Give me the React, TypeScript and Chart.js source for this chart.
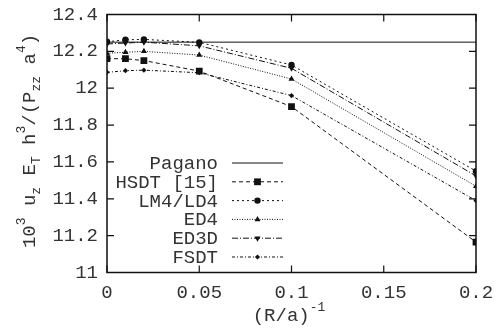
import React, { useEffect, useRef } from "react";
import { Chart, registerables } from "chart.js";
import { drawPoint } from "chart.js/helpers";

Chart.register(...registerables);

const xValues = [0, 0.01, 0.02, 0.05, 0.1, 0.2];
const paganoX = [0, 0.2];
const paganoY = [12.25, 12.25];
const hsdt = [12.16, 12.16, 12.15, 12.093, 11.9, 11.165];
const lm4 = [12.252, 12.263, 12.265, 12.249, 12.126, 11.55];
const ed4 = [12.19, 12.195, 12.2, 12.18, 12.05, 11.468];
const ed3d = [12.24, 12.245, 12.25, 12.23, 12.108, 11.524];
const fsdt = [12.086, 12.095, 12.098, 12.084, 11.96, 11.39];

const xTicks = [0, 0.05, 0.1, 0.15, 0.2];
const yTicks = [11, 11.2, 11.4, 11.6, 11.8, 12, 12.2, 12.4];

const FONT = "'Liberation Mono', 'DejaVu Sans Mono', monospace";
const INK = "#111";
const TEXT = "#333";

const pts = (xs: number[], ys: number[]) => xs.map((x, i) => ({ x, y: ys[i] }));

const series = [
  { label: "Pagano", data: pts(paganoX, paganoY), dash: [] as number[], style: "circle", radius: 0, rotation: 0 },
  { label: "HSDT [15]", data: pts(xValues, hsdt), dash: [4, 3], style: "rect", radius: 4.8, rotation: 0 },
  { label: "LM4/LD4", data: pts(xValues, lm4), dash: [2, 3], style: "circle", radius: 3.2, rotation: 0 },
  { label: "ED4", data: pts(xValues, ed4), dash: [1, 1.5], style: "triangle", radius: 3.5, rotation: 0 },
  { label: "ED3D", data: pts(xValues, ed3d), dash: [6, 2, 1, 2], style: "triangle", radius: 3.5, rotation: 180 },
  { label: "FSDT", data: pts(xValues, fsdt), dash: [3, 2, 1, 2], style: "rectRot", radius: 2.6, rotation: 0 },
];

const framePlugin = {
  id: "frame",
  afterDatasetsDraw(chart: any) {
    const { ctx, chartArea: a, scales } = chart;
    const xs = scales.x;
    const ys = scales.y;
    ctx.save();
    ctx.strokeStyle = INK;
    ctx.lineWidth = 1.5;
    ctx.setLineDash([]);
    ctx.strokeRect(a.left, a.top, a.right - a.left, a.bottom - a.top);
    ctx.lineWidth = 1.2;
    const L = 7;
    ctx.beginPath();
    xTicks.forEach((v) => {
      const px = xs.getPixelForValue(v);
      ctx.moveTo(px, a.bottom);
      ctx.lineTo(px, a.bottom - L);
      ctx.moveTo(px, a.top);
      ctx.lineTo(px, a.top + L);
    });
    yTicks.forEach((v) => {
      const py = ys.getPixelForValue(v);
      ctx.moveTo(a.left, py);
      ctx.lineTo(a.left + L, py);
      ctx.moveTo(a.right, py);
      ctx.lineTo(a.right - L, py);
    });
    ctx.stroke();

    // legend
    const textRight = 218;
    const lineStart = 232;
    const lineEnd = 283;
    const rowTop = 163;
    const rowGap = 18.8;
    ctx.font = `19px ${FONT}`;
    ctx.textAlign = "right";
    ctx.textBaseline = "middle";
    series.forEach((s, i) => {
      const y = rowTop + i * rowGap;
      ctx.fillStyle = TEXT;
      ctx.fillText(s.label, textRight, y + 1);
      ctx.save();
      ctx.strokeStyle = INK;
      ctx.lineWidth = 1;
      ctx.setLineDash(s.dash);
      ctx.beginPath();
      ctx.moveTo(lineStart, y);
      ctx.lineTo(lineEnd, y);
      ctx.stroke();
      ctx.setLineDash([]);
      if (s.radius > 0) {
        ctx.fillStyle = INK;
        drawPoint(ctx, { pointStyle: s.style as any, radius: s.radius, rotation: s.rotation, borderWidth: 0 } as any, (lineStart + lineEnd) / 2, y);
      }
      ctx.restore();
    });

    // axis titles
    const big = `19px ${FONT}`;
    const small = `13px ${FONT}`;
    type Seg = { t: string; f: string; dy: number };
    const drawSegs = (segs: Seg[], cx: number) => {
      let total = 0;
      segs.forEach((s) => {
        ctx.font = s.f;
        total += ctx.measureText(s.t).width;
      });
      let x = cx - total / 2;
      segs.forEach((s) => {
        ctx.font = s.f;
        ctx.fillText(s.t, x, s.dy);
        x += ctx.measureText(s.t).width;
      });
    };
    ctx.textAlign = "left";
    ctx.textBaseline = "alphabetic";
    ctx.fillStyle = TEXT;
    // y title
    ctx.save();
    ctx.translate(35, 0);
    ctx.rotate(-Math.PI / 2);
    const ySegs: Seg[] = [
      { t: "10", f: big, dy: 0 },
      { t: "3", f: small, dy: -10 },
      { t: " u", f: big, dy: 0 },
      { t: "z", f: small, dy: 5 },
      { t: " E", f: big, dy: 0 },
      { t: "T", f: small, dy: 5 },
      { t: " h", f: big, dy: 0 },
      { t: "3", f: small, dy: -10 },
      { t: "/(P", f: big, dy: 0 },
      { t: "zz", f: small, dy: 5 },
      { t: " a", f: big, dy: 0 },
      { t: "4", f: small, dy: -10 },
      { t: ")", f: big, dy: 0 },
    ];
    drawSegs(ySegs, -141);
    ctx.restore();
    // x title
    ctx.save();
    ctx.translate(0, 321);
    const xSegs: Seg[] = [
      { t: "(R/a)", f: big, dy: 0 },
      { t: "-1", f: small, dy: -10 },
    ];
    drawSegs(xSegs, 289);
    ctx.restore();
    ctx.restore();
  },
};

export default function App() {
  const ref = useRef<HTMLCanvasElement | null>(null);
  useEffect(() => {
    if (!ref.current) return;
    const chart = new Chart(ref.current, {
      type: "line",
      data: {
        datasets: series.map((s) => ({
          label: s.label,
          data: s.data,
          borderColor: INK,
          backgroundColor: INK,
          borderWidth: 1,
          borderDash: s.dash,
          pointStyle: s.style as any,
          pointRadius: s.radius,
          pointRotation: s.rotation,
          pointBorderWidth: 0,
          pointBackgroundColor: INK,
          pointHoverRadius: s.radius,
          tension: 0,
          fill: false,
        })),
      },
      plugins: [framePlugin],
      options: {
        animation: false,
        responsive: false,
        layout: { padding: { top: 14.5, right: 24, left: 0, bottom: 0 } },
        plugins: { legend: { display: false }, tooltip: { enabled: false } },
        scales: {
          x: {
            type: "linear",
            min: 0,
            max: 0.2,
            afterBuildTicks: (scale: any) => {
              scale.ticks = xTicks.map((v) => ({ value: v }));
            },
            afterFit: (scale: any) => {
              scale.height = 60.5;
              scale.paddingLeft = 0;
              scale.paddingRight = 0;
              scale.paddingTop = 0;
              scale.paddingBottom = 0;
            },
            grid: { display: false, drawTicks: false },
            border: { display: false },
            ticks: {
              padding: 9,
              color: TEXT,
              font: { family: FONT, size: 19 },
              maxRotation: 0,
              callback: (v: any) => String(Math.round(Number(v) * 100) / 100),
            },
          },
          y: {
            type: "linear",
            min: 11,
            max: 12.4,
            afterBuildTicks: (scale: any) => {
              scale.ticks = yTicks.map((v) => ({ value: v }));
            },
            afterFit: (scale: any) => {
              scale.width = 107;
              scale.paddingLeft = 0;
              scale.paddingRight = 0;
              scale.paddingTop = 0;
              scale.paddingBottom = 0;
            },
            grid: { display: false, drawTicks: false },
            border: { display: false },
            ticks: {
              padding: 9,
              color: TEXT,
              font: { family: FONT, size: 19 },
              callback: (v: any) => String(Math.round(Number(v) * 10) / 10),
            },
          },
        },
      },
    });
    return () => chart.destroy();
  }, []);
  return (
    <div style={{ position: "absolute", left: 0, top: 0, width: 500, height: 333, background: "#fff" }}>
      <canvas ref={ref} width={500} height={333} style={{ display: "block" }} />
    </div>
  );
}
